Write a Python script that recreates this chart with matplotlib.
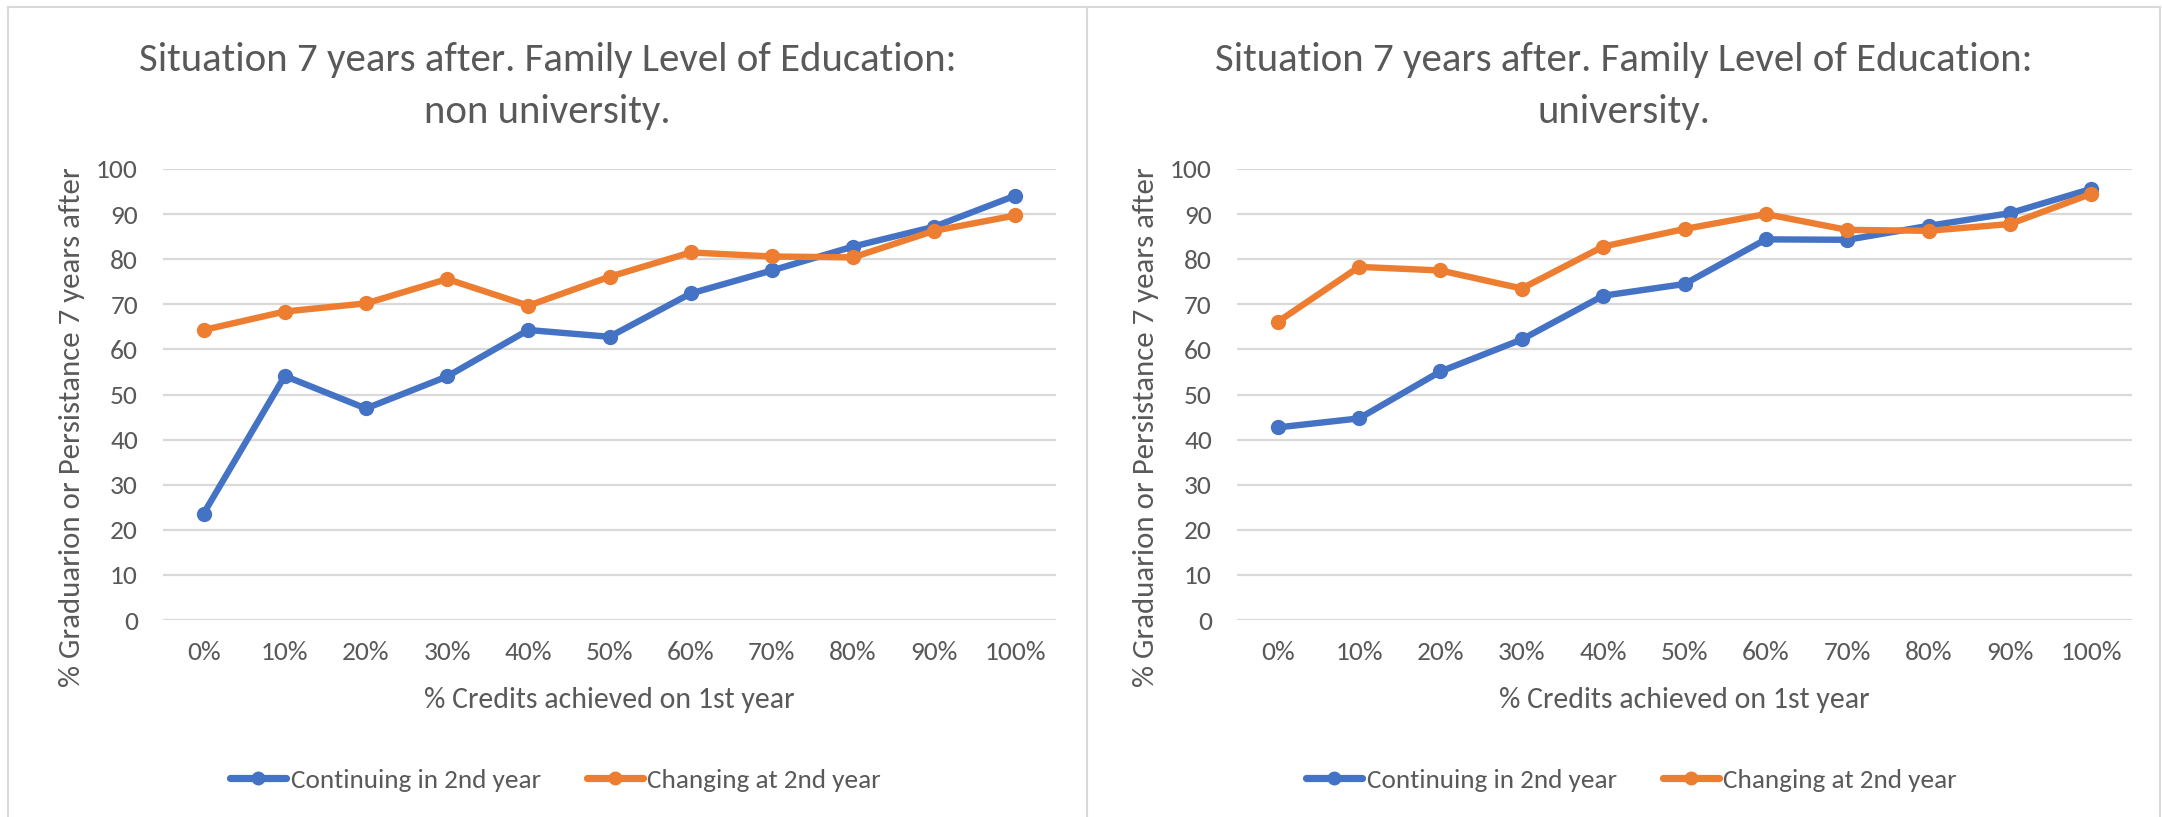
import matplotlib
matplotlib.use("Agg")
import matplotlib.pyplot as plt
from matplotlib import font_manager
from matplotlib.font_manager import FontProperties
from matplotlib.textpath import TextPath
from matplotlib.lines import Line2D

# ---------------- data ----------------
categories = ["0%", "10%", "20%", "30%", "40%", "50%", "60%", "70%", "80%", "90%", "100%"]
yticks = [0, 10, 20, 30, 40, 50, 60, 70, 80, 90, 100]
series_names = ["Continuing in 2nd year", "Changing at 2nd year"]
titles = [
    ["Situation 7 years after. Family Level of Education:", "non university."],
    ["Situation 7 years after. Family Level of Education:", "university."],
]
x_label = "% Credits achieved on 1st year"
y_label = "% Graduarion or Persistance 7 years after"

nonuni_continuing = [23.6, 54.1, 46.9, 54.0, 64.3, 62.8, 72.4, 77.5, 82.8, 87.2, 94.1]
nonuni_changing = [64.3, 68.4, 70.2, 75.6, 69.7, 76.1, 81.5, 80.6, 80.4, 86.3, 89.7]
uni_continuing = [42.7, 44.7, 55.1, 62.2, 71.9, 74.5, 84.4, 84.3, 87.4, 90.2, 95.6]
uni_changing = [66.1, 78.3, 77.5, 73.5, 82.8, 86.7, 90.0, 86.5, 86.3, 87.8, 94.5]

panels_data = [
    (nonuni_continuing, nonuni_changing),
    (uni_continuing, uni_changing),
]

# ---------------- style ----------------
BLUE = "#4472C4"
ORANGE = "#ED7D31"
GRID = "#D9D9D9"
TEXT = "#595959"
BORDER = "#D9D9D9"
DPI = 100
W, H = 2162, 817
LW = 4.6
MS = 10


def pick(cands):
    for c in cands:
        try:
            font_manager.findfont(FontProperties(family=c), fallback_to_default=False)
            return c
        except Exception:
            pass
    return "DejaVu Sans"


FONT = pick(["Carlito", "Lato", "Open Sans", "DejaVu Sans"])
plt.rcParams["font.family"] = [FONT, "DejaVu Sans"]


def fit(text, px):
    fp = FontProperties(family=FONT, size=100)
    w = TextPath((0, 0), text, prop=fp).get_extents().width
    return 100.0 * px / (w * DPI / 72.0)


title_fs = fit(titles[0][0], 815)
tick_fs = fit("100%", 58)
xlabel_fs = fit(x_label, 368)
ylabel_fs = fit(y_label, 516)
legend_fs = fit(series_names[0], 249)
legend_em_px = legend_fs * DPI / 72.0


def fx(px):
    return px / W


def fy(py):
    return 1 - py / H


fig = plt.figure(figsize=(W / DPI, H / DPI), dpi=DPI)
fig.patch.set_facecolor("white")

panel_px = [(8, 1087), (1087, 2160)]
axes_px = [(163, 1056), (1237, 2132)]
top_px, bottom_px = 169, 620

for i in range(2):
    p0, p1 = panel_px[i]
    a0, a1 = axes_px[i]
    cont, chg = panels_data[i]
    ax = fig.add_axes([fx(a0), fy(bottom_px), (a1 - a0) / W, (bottom_px - top_px) / H])
    x = list(range(len(categories)))
    h1, = ax.plot(x, cont, color=BLUE, lw=LW, marker="o", ms=MS,
                  solid_capstyle="round", solid_joinstyle="round", zorder=3, clip_on=False,
                  label=series_names[0])
    h2, = ax.plot(x, chg, color=ORANGE, lw=LW, marker="o", ms=MS,
                  solid_capstyle="round", solid_joinstyle="round", zorder=4, clip_on=False,
                  label=series_names[1])
    ax.set_xlim(-0.5, len(categories) - 0.5)
    ax.set_ylim(0, 100)
    ax.set_xticks(x)
    ax.set_xticklabels(categories)
    ax.set_yticks(yticks)
    ax.grid(axis="y", color=GRID, lw=1.6)
    ax.grid(axis="x", visible=False)
    ax.set_axisbelow(True)
    for s in ax.spines.values():
        s.set_visible(False)
    ax.tick_params(axis="both", length=0, colors=TEXT, labelsize=tick_fs)
    ax.tick_params(axis="y", pad=18)
    ax.tick_params(axis="x", pad=15)

    pc = (p0 + p1) / 2
    fig.text(fx(pc), fy(60), titles[i][0], ha="center", va="center",
             fontsize=title_fs, color=TEXT)
    fig.text(fx(pc), fy(112), titles[i][1], ha="center", va="center",
             fontsize=title_fs, color=TEXT)
    fig.text(fx((a0 + a1) / 2), fy(700), x_label, ha="center", va="center",
             fontsize=xlabel_fs, color=TEXT)
    fig.text(fx(a0 - 91), fy(427), y_label, ha="center", va="center",
             rotation=90, fontsize=ylabel_fs, color=TEXT)

    lh = [Line2D([], [], color=BLUE, lw=LW + 0.6, marker="o", ms=MS - 1, solid_capstyle="round"),
          Line2D([], [], color=ORANGE, lw=LW + 0.6, marker="o", ms=MS - 1, solid_capstyle="round")]
    fig.legend(handles=lh, labels=series_names, loc="center",
               bbox_to_anchor=(fx(pc + 8), fy(780)), ncol=2, frameon=False,
               fontsize=legend_fs, labelcolor=TEXT, handlelength=56 / legend_em_px,
               handletextpad=0.15, columnspacing=46 / legend_em_px,
               borderaxespad=0, borderpad=0)

# panel borders
bkw = dict(color=BORDER, lw=1.5, transform=fig.transFigure)
fig.add_artist(Line2D([fx(8), fx(2160)], [fy(7), fy(7)], **bkw))
fig.add_artist(Line2D([fx(8), fx(8)], [0, fy(7)], **bkw))
fig.add_artist(Line2D([fx(1087), fx(1087)], [0, fy(7)], **bkw))
fig.add_artist(Line2D([fx(2160), fx(2160)], [0, fy(7)], **bkw))

fig.savefig("out.png", dpi=DPI, facecolor="white")
